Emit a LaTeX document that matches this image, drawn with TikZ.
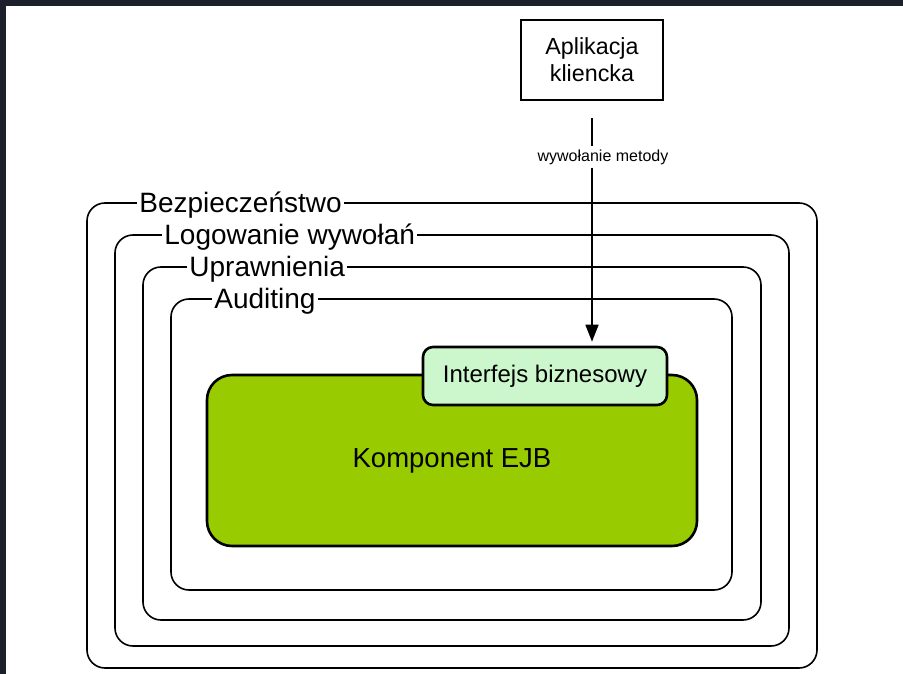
\documentclass[tikz,border=0pt]{standalone}
\usepackage{fontspec}
\setmainfont{Liberation Sans}
\usepackage{xcolor}
\usepackage{tikz}
\usetikzlibrary{positioning,arrows.meta}
\definecolor{framedark}{HTML}{1B202B}
\definecolor{ejbgreen}{HTML}{99CC00}
\definecolor{ifacegreen}{HTML}{CCF7CC}
\tikzset{layer/.style={draw,line width=1.6pt,rounded corners=18pt},
  layerlabel/.style={fill=white,anchor=base west,inner xsep=2pt,inner ysep=1pt,font=\fontsize{28}{32}\selectfont},
  appbox/.style={draw,line width=1.6pt,align=center,font=\fontsize{23.3}{27}\selectfont} }

\begin{document}
\begin{tikzpicture}[x=1pt,y=-1pt]
    \useasboundingbox (0,0) rectangle (903,674);
    \fill[framedark] (0,0) rectangle (903,674);
    \fill[white] (6,6) rectangle (903,674);
    \node[layer,minimum width=730pt,minimum height=465pt] (sec) at (452,435.5) {};
    \node[layer,minimum width=674pt,minimum height=411pt] (log) at (452,440.5) {};
    \node[layer,minimum width=618pt,minimum height=353pt] (perm) at (452,443.5) {};
    \node[layer,minimum width=561pt,minimum height=291pt] (audit) at (451.5,444.5) {};
    \node[layerlabel] at ([xshift=51pt,yshift=-9.8pt]sec.north west) {Bezpieczeństwo};
    \node[layerlabel] at ([xshift=48pt,yshift=-9.8pt]log.north west) {Logowanie wywołań};
    \node[layerlabel] at ([xshift=45pt,yshift=-9.8pt]perm.north west) {Uprawnienia};
    \node[layerlabel] at ([xshift=42pt,yshift=-9.8pt]audit.north west) {Auditing};
    \node[draw,line width=2.6pt,rounded corners=25pt,fill=ejbgreen,minimum width=490pt,minimum height=171pt,
      font=\fontsize{27.5}{32}\selectfont] (ejb) at (452,460.5) {Komponent EJB};
    \node[draw,line width=2.6pt,rounded corners=10pt,fill=ifacegreen,minimum width=244pt,minimum height=58pt,
      font=\fontsize{24}{28}\selectfont] (iface) at (545,376) {Interfejs biznesowy};
    \node[appbox,minimum width=142pt,minimum height=80pt] (app) at (592,60) {Aplikacja\\kliencka};
    \node[inner xsep=1pt,inner ysep=3pt,font=\fontsize{16}{19}\selectfont] (call) at (603,157) {wywołanie metody};
    \draw[line width=1.6pt,shorten <=17pt] (app.south) -- (app.south |- call.north);
    \draw[line width=1.6pt,-{Triangle[length=17pt,width=13pt]},shorten >=4pt] (app.south |- call.south) -- (app.south |- iface.north);
\end{tikzpicture}
\end{document}
